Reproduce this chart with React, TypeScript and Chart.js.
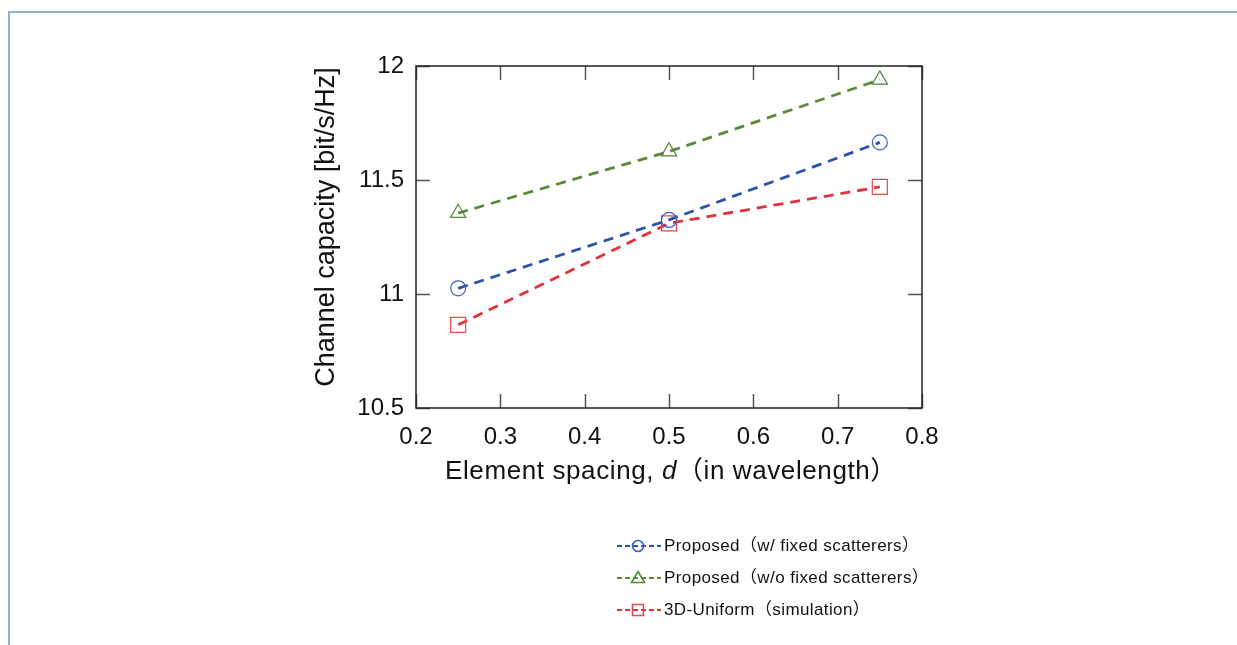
import React, { useEffect, useRef } from "react";
import { Chart, registerables } from "chart.js";

Chart.register(...registerables);

// ---- data ----
const spacing = [0.25, 0.5, 0.75];
const withFixed = [11.025, 11.325, 11.665];
const withoutFixed = [11.355, 11.625, 11.94];
const uniform3D = [10.865, 11.31, 11.47];
const xTicks = [0.2, 0.3, 0.4, 0.5, 0.6, 0.7, 0.8];
const yTicks = [10.5, 11, 11.5, 12];
const seriesLabels = [
  "Proposed（w/ fixed scatterers）",
  "Proposed（w/o fixed scatterers）",
  "3D-Uniform（simulation）",
];
const yTitle = "Channel capacity [bit/s/Hz]";
const xTitleParts = ["Element spacing, ", "d", "（in wavelength）"];

const FONT = "'Liberation Sans', Arial, 'Noto Sans CJK JP', sans-serif";

const lineColors = ["#2b52a6", "#5a8a3a", "#e0323c"];
const markerColors = ["#3a5fc4", "#4f8a36", "#e5484f"];
const markerStyles = ["circle", "triangle", "rect"];
const markerRadii = [7.5, 8.8, 10.6];

const W = 1237;
const H = 645;

const decorPlugin = {
  id: "decor",
  afterDraw(chart: any) {
    const ctx = chart.ctx;
    const { left, right, top, bottom } = chart.chartArea;
    const xs = chart.scales.x;
    const ys = chart.scales.y;
    ctx.save();
    // inward tick marks on all four sides
    ctx.strokeStyle = "#555";
    ctx.lineWidth = 1.5;
    const tl = 14;
    xTicks.forEach((v) => {
      const px = Math.round(xs.getPixelForValue(v)) + 0.5;
      ctx.beginPath();
      ctx.moveTo(px, bottom);
      ctx.lineTo(px, bottom - tl);
      ctx.moveTo(px, top);
      ctx.lineTo(px, top + tl);
      ctx.stroke();
    });
    yTicks.forEach((v) => {
      const py = Math.round(ys.getPixelForValue(v)) + 0.5;
      ctx.beginPath();
      ctx.moveTo(left, py);
      ctx.lineTo(left + tl, py);
      ctx.moveTo(right, py);
      ctx.lineTo(right - tl, py);
      ctx.stroke();
    });
    // frame
    ctx.strokeStyle = "#222";
    ctx.lineWidth = 1.5;
    ctx.strokeRect(left, top, right - left, bottom - top);

    // y title
    ctx.fillStyle = "#111";
    ctx.font = `27px ${FONT}`;
    ctx.textAlign = "center";
    ctx.textBaseline = "middle";
    ctx.save();
    ctx.translate(left - 89, (top + bottom) / 2 - 10);
    ctx.rotate(-Math.PI / 2);
    ctx.fillText(yTitle, 0, 0);
    ctx.restore();

    // x title with italic d
    const fonts = [`26px ${FONT}`, `italic 26px ${FONT}`, `26px ${FONT}`];
    ctx.save();
    (ctx as any).letterSpacing = "0.6px";
    let total = 0;
    const widths = xTitleParts.map((t, i) => {
      ctx.font = fonts[i];
      const w = ctx.measureText(t).width;
      total += w;
      return w;
    });
    let x = (left + right) / 2 + 2 - total / 2;
    const ty = bottom + 64;
    ctx.textAlign = "left";
    xTitleParts.forEach((t, i) => {
      ctx.font = fonts[i];
      ctx.fillText(t, x, ty);
      x += widths[i];
    });
    ctx.restore();

    // legend
    const lx = left + 201;
    const rows = [bottom + 138, bottom + 170, bottom + 202];
    rows.forEach((ry, i) => {
      ctx.save();
      ctx.strokeStyle = lineColors[i];
      ctx.lineWidth = 2;
      ctx.setLineDash([5, 3]);
      ctx.beginPath();
      ctx.moveTo(lx, ry);
      ctx.lineTo(lx + 44, ry);
      ctx.stroke();
      ctx.restore();
      ctx.save();
      ctx.strokeStyle = markerColors[i];
      ctx.lineWidth = 1.6;
      const cx = lx + 21;
      ctx.beginPath();
      if (i === 0) {
        ctx.arc(cx, ry, 5.5, 0, Math.PI * 2);
      } else if (i === 1) {
        ctx.moveTo(cx, ry - 6.5);
        ctx.lineTo(cx + 6.5, ry + 4.5);
        ctx.lineTo(cx - 6.5, ry + 4.5);
        ctx.closePath();
      } else {
        ctx.rect(cx - 5.5, ry - 5.5, 11, 11);
      }
      ctx.stroke();
      ctx.restore();
      ctx.save();
      (ctx as any).letterSpacing = "0.4px";
      ctx.fillStyle = "#111";
      ctx.font = `17px ${FONT}`;
      ctx.textAlign = "left";
      ctx.textBaseline = "middle";
      ctx.fillText(seriesLabels[i], lx + 47, ry);
      ctx.restore();
    });
    ctx.restore();
  },
};

export default function App() {
  const ref = useRef<HTMLCanvasElement | null>(null);
  useEffect(() => {
    if (!ref.current) return;
    const series = [withFixed, withoutFixed, uniform3D];
    const chart = new Chart(ref.current, {
      type: "scatter",
      data: {
        datasets: series.map((vals, i) => ({
          label: seriesLabels[i],
          data: spacing.map((s, k) => ({ x: s, y: vals[k] })),
          showLine: true,
          borderColor: lineColors[i],
          borderWidth: 2.8,
          borderDash: [10, 7],
          pointStyle: markerStyles[i] as any,
          pointRadius: markerRadii[i],
          pointBorderColor: markerColors[i],
          pointBackgroundColor: "rgba(0,0,0,0)",
          pointBorderWidth: 1.2,
        })),
      },
      options: {
        responsive: false,
        animation: false,
        layout: { padding: { left: 300, top: 66, right: 315, bottom: 0 } },
        plugins: { legend: { display: false }, tooltip: { enabled: false } },
        scales: {
          x: {
            type: "linear",
            min: 0.2,
            max: 0.8,
            afterBuildTicks: (s: any) => {
              s.ticks = xTicks.map((v) => ({ value: v }));
            },
            afterFit: (s: any) => {
              s.height = H - 408;
            },
            grid: { display: false, drawTicks: false },
            border: { display: false },
            ticks: {
              padding: 15,
              color: "#111",
              font: { family: FONT, size: 24 },
              callback: (v: any) => (Math.round(Number(v) * 10) / 10).toFixed(1),
            },
          },
          y: {
            type: "linear",
            min: 10.5,
            max: 12,
            afterBuildTicks: (s: any) => {
              s.ticks = yTicks.map((v) => ({ value: v }));
            },
            afterFit: (s: any) => {
              s.width = 116;
            },
            grid: { display: false, drawTicks: false },
            border: { display: false },
            ticks: {
              padding: 12,
              color: "#111",
              font: { family: FONT, size: 24 },
              callback: (v: any) => String(Math.round(Number(v) * 10) / 10),
            },
          },
        },
      },
      plugins: [decorPlugin],
    });
    return () => chart.destroy();
  }, []);

  return (
    <div
      style={{
        position: "fixed",
        left: 0,
        top: 0,
        width: W,
        height: H,
        background: "#fff",
        overflow: "hidden",
      }}
    >
      <div
        style={{
          position: "absolute",
          left: 8,
          top: 11,
          width: W,
          height: H,
          borderTop: "2px solid #8fb4c4",
          borderLeft: "2px solid #8fb4c4",
        }}
      />
      <canvas
        ref={ref}
        width={W}
        height={H}
        style={{ position: "absolute", left: 0, top: 0, display: "block" }}
      />
    </div>
  );
}
